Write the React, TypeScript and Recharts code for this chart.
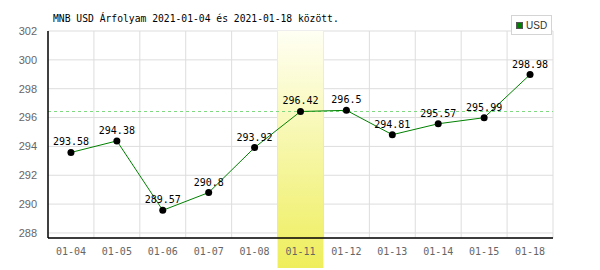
import React from "react";
import {
  LineChart,
  Line,
  XAxis,
  YAxis,
  CartesianGrid,
  ReferenceArea,
  LabelList,
} from "recharts";

// MNB USD rates between 2021-01-04 and 2021-01-18
const dates = ["01-04", "01-05", "01-06", "01-07", "01-08", "01-11", "01-12", "01-13", "01-14", "01-15", "01-18"];
const rates = [293.58, 294.38, 289.57, 290.8, 293.92, 296.42, 296.5, 294.81, 295.57, 295.99, 298.98];
const yTicks = [288, 290, 292, 294, 296, 298, 300, 302];
const highlightDate = "01-11";
const highlightRate = 296.42;

const data = dates.map((d, i) => ({ date: d, USD: rates[i] }));

const mono = "'DejaVu Sans Mono', 'Liberation Mono', monospace";

// dashed level line for the highlighted day's rate
const DashedLevel = (p: any) => {
  const y = Math.floor(p.y) + 0.5;
  return (
    <line
      x1={p.x}
      y1={y}
      x2={p.x + p.width}
      y2={y}
      stroke="#80d880"
      strokeWidth={1}
      strokeDasharray="3 3"
    />
  );
};

export default function App() {
  return (
    <div style={{ position: "absolute", left: 0, top: 0, width: 600, height: 270, background: "#fff" }}>
      <div
        style={{
          position: "absolute",
          left: 53,
          top: 12,
          fontFamily: mono,
          fontSize: 9.7,
          color: "#000",
          whiteSpace: "nowrap",
          lineHeight: "14px",
        }}
      >
        MNB USD Árfolyam 2021-01-04 és 2021-01-18 között.
      </div>
      <LineChart
        width={600}
        height={270}
        data={data}
        margin={{ top: 31, right: 47, left: 0, bottom: 0 }}
      >
        <defs>
          <linearGradient id="hl" x1="0" y1="0" x2="0" y2="1">
            <stop offset="0%" stopColor="#fffff4" />
            <stop offset="100%" stopColor="#eeee5c" />
          </linearGradient>
        </defs>
        <ReferenceArea
          x1={highlightDate}
          x2={highlightDate}
          ifOverflow="visible"
          shape={(p: any) => (
            <rect x={p.x} y={p.y} width={p.width} height={p.height + 30} fill="url(#hl)" />
          )}
        />
        <CartesianGrid
          stroke="#dddddd"
          strokeWidth={1}
          verticalCoordinatesGenerator={({ offset }: any) =>
            dates.map((_, i) => offset.left + ((i + 1) * offset.width) / dates.length)
          }
        />
        <XAxis
          dataKey="date"
          scale="band"
          height={32}
          axisLine={{ stroke: "#000", strokeWidth: 1.5 }}
          tickLine={false}
          tickMargin={4}
          interval={0}
          tick={{ fill: "#666", fontSize: 10, fontFamily: mono }}
        />
        <YAxis
          domain={[287.65, 302]}
          ticks={yTicks}
          allowDataOverflow
          width={48}
          axisLine={{ stroke: "#000", strokeWidth: 1.5 }}
          tickLine={false}
          tickMargin={5}
          interval={0}
          tick={{ fill: "#666", fontSize: 11, fontFamily: "'Liberation Sans', Arial, sans-serif" }}
        />
        <ReferenceArea y1={highlightRate} y2={highlightRate} ifOverflow="visible" shape={DashedLevel} />
        <Line
          type="linear"
          dataKey="USD"
          stroke="#008000"
          strokeWidth={1}
          dot={{ r: 3.5, fill: "#000", stroke: "#000", strokeWidth: 0 }}
          isAnimationActive={false}
        >
          <LabelList
            dataKey="USD"
            position="top"
            offset={7}
            style={{ fill: "#000", fontSize: 10, fontFamily: mono }}
          />
        </Line>
      </LineChart>
      <div
        style={{
          position: "absolute",
          left: 511,
          top: 15,
          width: 41,
          height: 20,
          boxSizing: "border-box",
          border: "1px solid #d4d4d4",
          background: "#fff",
          display: "flex",
          alignItems: "center",
          fontFamily: "'Liberation Sans', Arial, sans-serif",
          fontSize: 10,
          color: "#333",
        }}
      >
        <span
          style={{
            display: "inline-block",
            width: 5,
            height: 5,
            background: "#008000",
            border: "1px solid #555",
            marginLeft: 4,
            marginRight: 3,
          }}
        />
        USD
      </div>
    </div>
  );
}
